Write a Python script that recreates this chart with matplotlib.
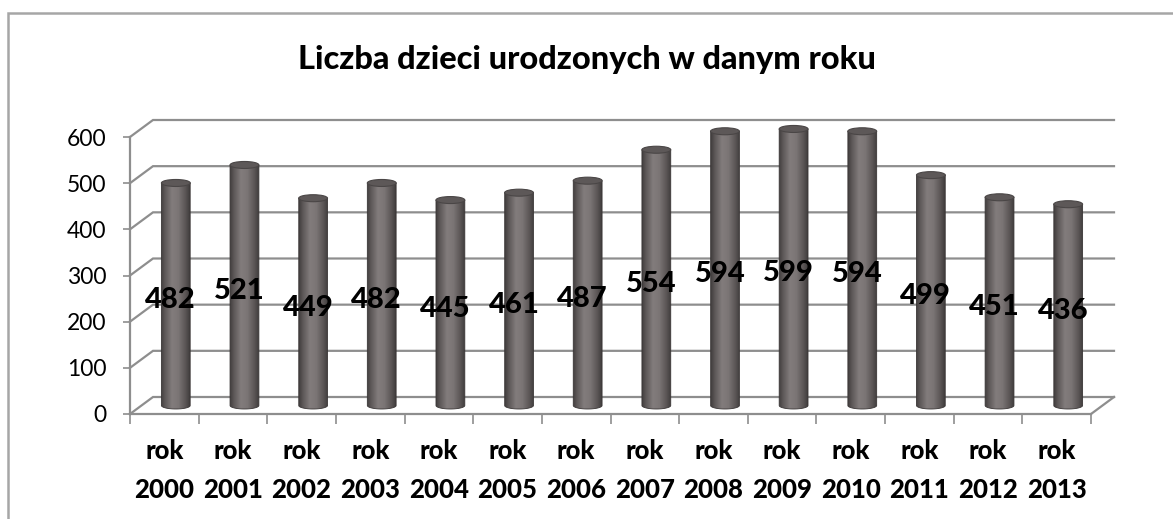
import numpy as np
import matplotlib
matplotlib.use("Agg")
import matplotlib.pyplot as plt
from matplotlib.patches import Ellipse, PathPatch, Rectangle
from matplotlib.path import Path
from matplotlib.colors import LinearSegmentedColormap

# ---------------- data ----------------
years = ["2000", "2001", "2002", "2003", "2004", "2005", "2006",
         "2007", "2008", "2009", "2010", "2011", "2012", "2013"]
births = [482, 521, 449, 482, 445, 461, 487, 554, 594, 599, 594, 499, 451, 436]
y_ticks = [0, 100, 200, 300, 400, 500, 600]
x_labels = ["rok\n" + y for y in years]
title = "Liczba dzieci urodzonych w danym roku"

# ---------------- figure ----------------
W, H = 1173, 519
fig = plt.figure(figsize=(W / 100, H / 100), dpi=100)
FONT = ["Lato", "DejaVu Sans"]
HEAVY = 900

# outer chart frame
fig.add_artist(Rectangle((8 / W, -0.1), 1.2, (H - 13) / H + 0.1,
                         transform=fig.transFigure, fill=False,
                         edgecolor="#a6a6a6", lw=1.8))

ymax_front = 600
ylim_top = 680
px_per_unit = 277 / 600
ax = fig.add_axes([130 / W, (H - 414) / H, 961 / W, px_per_unit * ylim_top / H])
n = len(births)
ax.set_xlim(-0.5, n - 0.5)
ax.set_ylim(0, ylim_top)
ax.patch.set_alpha(0)

# depth offsets (geometry)
DX = 23 / (961 / n)
DY = 17 / px_per_unit
BW = 0.42
EH = 7 / px_per_unit
grid_c = "#8e8e8e"

for s in ["top", "right"]:
    ax.spines[s].set_visible(False)
ax.spines["left"].set_bounds(0, ymax_front)
ax.spines["left"].set_color(grid_c)
ax.spines["left"].set_linewidth(1.6)
ax.spines["bottom"].set_color(grid_c)
ax.spines["bottom"].set_linewidth(1.6)

ax.set_yticks(y_ticks)
ax.set_yticklabels([str(t) for t in y_ticks], fontfamily=FONT, fontsize=16.5)
ax.tick_params(axis="y", direction="out", length=5, width=1.2, color=grid_c, pad=12)

ax.set_xticks(np.arange(-0.5, n, 1.0))
ax.set_xticklabels([])
ax.set_xticks(np.arange(n), minor=True)
ax.set_xticklabels(x_labels, minor=True, fontfamily=FONT, fontsize=18.5,
                   fontweight=HEAVY, linespacing=1.75)
ax.tick_params(axis="x", which="major", direction="out", length=7.5, width=1.2, color=grid_c)
ax.tick_params(axis="x", which="minor", length=0, pad=18)

# back wall gridlines + side wall diagonals
for t in y_ticks:
    ax.plot([-0.5, -0.5 + DX, n - 0.5 + DX], [t, t + DY, t + DY],
            color=grid_c, lw=1.6, clip_on=False, zorder=1, solid_joinstyle="miter")
# floor right edge
ax.plot([n - 0.5, n - 0.5 + DX], [0, DY], color=grid_c, lw=1.6, clip_on=False, zorder=1)

# cylinder shading
cmap = LinearSegmentedColormap.from_list(
    "cyl", [(0.0, "#413d3d"), (0.12, "#5a5555"), (0.38, "#827c7c"),
            (0.6, "#7b7575"), (0.85, "#5a5555"), (1.0, "#403c3c")])
grad = np.linspace(0, 1, 256).reshape(1, -1)

theta = np.linspace(np.pi, 2 * np.pi, 60)
for i, v in enumerate(births):
    c = i + DX / 2
    y0 = DY / 2
    y1 = v + DY / 2
    xl, xr = c - BW / 2, c + BW / 2
    pts = [(xl, y1), (xl, y0)]
    pts += [(c + BW / 2 * np.cos(th), y0 + EH / 2 * np.sin(th)) for th in theta]
    pts += [(xr, y1), (xl, y1)]
    path = Path(pts, closed=True)
    body = PathPatch(path, facecolor="none", edgecolor="#3a3636", lw=0.6, zorder=3)
    ax.add_patch(body)
    im = ax.imshow(grad, extent=(xl, xr, y0 - EH, y1), aspect="auto",
                   cmap=cmap, zorder=2, interpolation="bilinear")
    im.set_clip_path(body)
    top = Ellipse((c, y1), BW, EH, facecolor="#5d5858", edgecolor="#4a4646",
                  lw=0.8, zorder=4)
    ax.add_patch(top)
    ax.text(i + 0.28 * DX, v / 2 + 0.15 * DY, str(v), ha="center", va="center",
            fontfamily=FONT, fontsize=21, fontweight=HEAVY, color="black", zorder=6)

ax.set_xlim(-0.5, n - 0.5)
ax.set_ylim(0, ylim_top)

fig.text(587 / W, 1 - 59 / H, title, ha="center", va="center",
         fontfamily=FONT, fontsize=23.4, fontweight=HEAVY)

fig.savefig("out.png", dpi=100)
